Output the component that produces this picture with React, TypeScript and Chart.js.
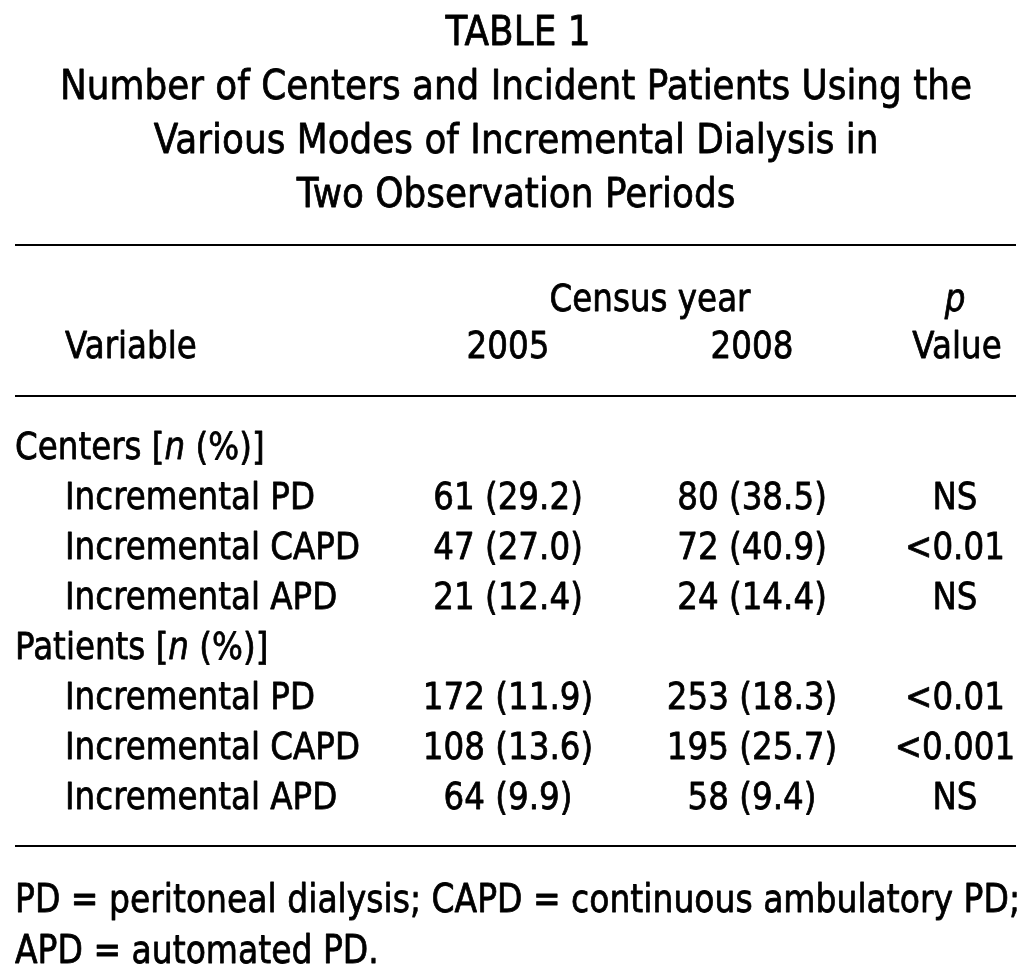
import React, { useEffect, useRef } from "react";
import { Chart, registerables } from "chart.js";

Chart.register(...registerables);

// ---------- data ----------
const tableNumber = "TABLE 1";
const titleLines = [
  "Number of Centers and Incident Patients Using the",
  "Various Modes of Incremental Dialysis in",
  "Two Observation Periods",
];
const spannerLabel = "Census year";
const yearHeaders = ["2005", "2008"];
const variableHeader = "Variable";
const pHeaderTop = "p";
const pHeaderBottom = "Value";
const rowLabels = [
  "Centers",
  "Incremental PD",
  "Incremental CAPD",
  "Incremental APD",
  "Patients",
  "Incremental PD",
  "Incremental CAPD",
  "Incremental APD",
];
const rowIsSection = [true, false, false, false, true, false, false, false];
const counts2005 = [null, 61, 47, 21, null, 172, 108, 64];
const pct2005 = [null, 29.2, 27.0, 12.4, null, 11.9, 13.6, 9.9];
const counts2008 = [null, 80, 72, 24, null, 253, 195, 58];
const pct2008 = [null, 38.5, 40.9, 14.4, null, 18.3, 25.7, 9.4];
const pValues = ["", "NS", "<0.01", "NS", "", "<0.01", "<0.001", "NS"];
const footnoteLines = [
  "PD = peritoneal dialysis; CAPD = continuous ambulatory PD;",
  "APD = automated PD.",
];

// ---------- layout / style ----------
const W = 1036;
const H = 974;
const FONT_FAMILY = '"DejaVu Sans", sans-serif';
const GROUPS: Record<string, { size: number; ref: string; refWidth: number }> = {
  title: { size: 41, ref: titleLines[0], refWidth: 912 },
  body: { size: 38, ref: "Incremental CAPD", refWidth: 295 },
  foot: { size: 39, ref: footnoteLines[0], refWidth: 1005 },
};
const COL = { section: 15, item: 65, y2005: 508, y2008: 752, spanner: 650, p: 955, pHead: 957, pItalic: 955 };
const RULE_LEFT = 15;
const RULE_RIGHT = 1016;
const INK = "#000";
const THICKEN = 0.8;

function fmt(n: number | null, p: number | null) {
  if (n === null || p === null) return "";
  return `${n} (${p.toFixed(1)})`;
}

const tablePlugin = {
  id: "tableText",
  beforeDraw(chart: any) {
    const ctx = chart.ctx;
    ctx.save();
    ctx.fillStyle = "#fff";
    ctx.fillRect(0, 0, chart.width, chart.height);
    ctx.restore();
  },
  afterDraw(chart: any) {
    const ctx: CanvasRenderingContext2D = chart.ctx;
    const yS = chart.scales.y;
    const xS = chart.scales.x;
    const rowY = (i: number) => yS.getPixelForValue(i);
    const step = rowY(1) - rowY(0);
    const X = (v: number) => xS.getPixelForValue(v);

    const font = (g: string, italic = false) => `${italic ? "italic " : ""}${GROUPS[g].size}px ${FONT_FAMILY}`;
    ctx.save();
    const sxOf: Record<string, number> = {};
    Object.keys(GROUPS).forEach((g) => {
      ctx.font = font(g);
      sxOf[g] = GROUPS[g].refWidth / ctx.measureText(GROUPS[g].ref).width;
    });
    ctx.fillStyle = INK;
    ctx.strokeStyle = INK;
    ctx.lineWidth = THICKEN;
    ctx.lineJoin = "round";
    ctx.textBaseline = "alphabetic";

    type Run = { t: string; i?: boolean };
    const drawRuns = (runs: Run[], x: number, base: number, align: "left" | "center" | "right", g: string) => {
      const sx = sxOf[g];
      let total = 0;
      const widths = runs.map((r) => {
        ctx.font = font(g, !!r.i);
        const w = ctx.measureText(r.t).width * sx;
        total += w;
        return w;
      });
      let start = x;
      if (align === "center") start = x - total / 2;
      else if (align === "right") start = x - total;
      ctx.textAlign = "left";
      runs.forEach((r, k) => {
        ctx.font = font(g, !!r.i);
        ctx.save();
        ctx.translate(start, base);
        ctx.scale(sx, 1);
        ctx.fillText(r.t, 0, 0);
        ctx.strokeText(r.t, 0, 0);
        ctx.restore();
        start += widths[k];
      });
    };
    const text = (t: string, x: number, base: number, align: "left" | "center" | "right", g: string, italic = false) =>
      drawRuns([{ t, i: italic }], x, base, align, g);

    const rule = (y: number) => {
      ctx.save();
      ctx.strokeStyle = INK;
      ctx.lineWidth = 2;
      ctx.beginPath();
      ctx.moveTo(X(RULE_LEFT), y);
      ctx.lineTo(X(RULE_RIGHT), y);
      ctx.stroke();
      ctx.restore();
    };

    const first = rowY(0);
    const BASE = 14; // row centre -> baseline
    // title block
    const titleStep = 54;
    const titleBase0 = 45;
    text(tableNumber, X(518), titleBase0, "center", "title");
    titleLines.forEach((l, k) => text(l, X(516), titleBase0 + titleStep * (k + 1), "center", "title"));

    rule(first - step * 4);
    // header
    const h1 = first - step * 3 + 2 + BASE;
    const h2 = first - step * 2 - 1 + BASE;
    text(spannerLabel, X(COL.spanner), h1, "center", "body");
    text(pHeaderTop, X(COL.pItalic), h1, "center", "body", true);
    text(variableHeader, X(COL.item), h2, "left", "body");
    text(yearHeaders[0], X(COL.y2005), h2, "center", "body");
    text(yearHeaders[1], X(COL.y2008), h2, "center", "body");
    text(pHeaderBottom, X(COL.pHead), h2, "center", "body");
    rule(first - step + 1);

    // body
    rowLabels.forEach((lab, i) => {
      const base = rowY(i) + BASE;
      if (rowIsSection[i]) {
        drawRuns([{ t: lab + " [" }, { t: "n", i: true }, { t: " (%)]" }], X(COL.section), base, "left", "body");
      } else {
        text(lab, X(COL.item), base, "left", "body");
        text(fmt(counts2005[i], pct2005[i]), X(COL.y2005), base, "center", "body");
        text(fmt(counts2008[i], pct2008[i]), X(COL.y2008), base, "center", "body");
        text(pValues[i], X(COL.p), base, "center", "body");
      }
    });

    const last = rowY(rowLabels.length - 1);
    rule(last + step + 1);
    footnoteLines.forEach((l, k) => text(l, X(COL.section), last + step * 2 + 17 + k * 51, "left", "foot"));
    ctx.restore();
  },
};

export default function App() {
  const ref = useRef<HTMLCanvasElement | null>(null);
  useEffect(() => {
    document.body.style.margin = "0";
    const canvas = ref.current!;
    const chart = new Chart(canvas, {
      type: "bar",
      data: {
        labels: rowLabels.map((l, i) => `${i}:${l}`),
        datasets: [
          {
            label: "2005",
            data: counts2005 as any,
            backgroundColor: "rgba(0,0,0,0)",
            borderWidth: 0,
          },
        ],
      },
      options: {
        indexAxis: "y",
        animation: false,
        responsive: false,
        devicePixelRatio: 1,
        layout: { padding: { top: 420, bottom: H - 820, left: 0, right: 0 } },
        plugins: { legend: { display: false }, title: { display: false }, tooltip: { enabled: false } },
        scales: {
          x: { type: "linear", min: 0, max: W, display: false },
          y: { type: "category", display: false, offset: true },
        },
      },
      plugins: [tablePlugin],
    });
    return () => chart.destroy();
  }, []);
  return (
    <div style={{ position: "absolute", left: 0, top: 0, width: W, height: H, background: "#fff" }}>
      <canvas ref={ref} width={W} height={H} style={{ width: W, height: H, display: "block" }} />
    </div>
  );
}
